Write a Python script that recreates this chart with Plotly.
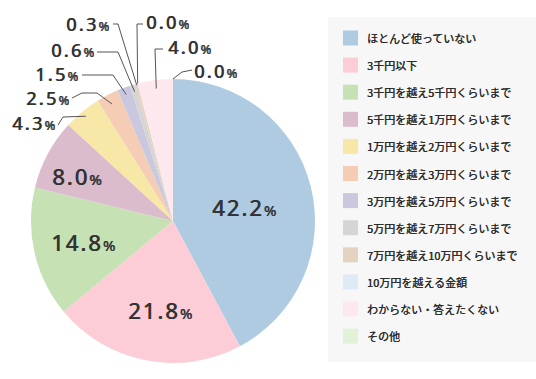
import math
import plotly.graph_objects as go

# ---- data ----
categories = [
    "ほとんど使っていない",
    "3千円以下",
    "3千円を越え5千円くらいまで",
    "5千円を越え1万円くらいまで",
    "1万円を越え2万円くらいまで",
    "2万円を越え3万円くらいまで",
    "3万円を越え5万円くらいまで",
    "5万円を越え7万円くらいまで",
    "7万円を越え10万円くらいまで",
    "10万円を越える金額",
    "わからない・答えたくない",
    "その他",
]
values = [42.2, 21.8, 14.8, 8.0, 4.3, 2.5, 1.5, 0.6, 0.3, 0.0, 4.0, 0.0]
colors = [
    "#afcbe2", "#fdcdd7", "#c6e2b4", "#dbbccd", "#f7e8a7", "#f5cdb5",
    "#c9c8de", "#d5d5d5", "#e4d3c0", "#dfebf4", "#fde9ed", "#e2f2d9",
]

W, H = 536, 379
CX, CY, R = 173, 221, 142


def px(x):
    return x / W


def py(y):
    return 1 - y / H


fig = go.Figure()
fig.add_trace(go.Pie(
    labels=categories,
    values=values,
    marker=dict(colors=colors, line=dict(width=0)),
    sort=False,
    direction="clockwise",
    rotation=0,
    textinfo="none",
    showlegend=False,
    domain=dict(x=[px(CX - R), px(CX + R)], y=[py(CY + R), py(CY - R)]),
))

total = sum(values)
cum = [sum(values[:i]) for i in range(len(values))]


def slice_point(i, rfrac, where=0.5):
    frac = (cum[i] + values[i] * where) / total
    th = 2 * math.pi * frac
    r = R * rfrac
    return CX + r * math.sin(th), CY - r * math.cos(th)


NUMFONT = "Noto Sans"
TXT = "#333333"
THICK = "0.7px 0 0 #333333"


def label_text(v, small, ls):
    return (f"<span style='letter-spacing:{ls}px'>{v:.1f}</span>"
            f"<span style='font-size:{small}px'>%</span>")


shapes = []
annotations = []

# inner labels (slice index, x, y)
inner = [(0, 244, 207), (1, 160, 310), (2, 83, 242), (3, 77, 176)]
for i, x, y in inner:
    annotations.append(dict(
        x=px(x), y=py(y), xref="paper", yref="paper", showarrow=False,
        text=label_text(values[i], 15, 2), xanchor="center", yanchor="middle",
        font=dict(family=NUMFONT, size=22, color=TXT, shadow=THICK),
    ))

# outer labels: (slice index, text anchor x, text y, anchor side, elbow points, rfrac)
outer = [
    (4, 57, 123, "right", [(58, 125), (63, 117)], 0.96),
    (5, 71, 98, "right", [(72, 98), (82, 93), (97, 93)], 0.93),
    (6, 80, 74, "right", [(82, 75), (113, 75)], 0.95),
    (7, 96, 50, "right", [(97, 52), (118, 52)], 0.95),
    (8, 111, 24, "right", [(113, 24), (118, 24)], 0.99),
    (9, 144, 22, "left", [(143, 24), (137, 24)], 1.0),
    (10, 166, 47, "left", [(163, 49), (155, 49)], 0.94),
    (11, 192, 71, "left", [(192, 70), (182, 72)], 1.0),
]
for i, x, y, side, pts, rf in outer:
    ex, ey = slice_point(i, rf)
    allpts = pts + [(ex, ey)]
    path = "M " + " L ".join(f"{px(a)},{py(b)}" for a, b in allpts)
    shapes.append(dict(type="path", path=path, xref="paper", yref="paper",
                       line=dict(color="#555555", width=1)))
    annotations.append(dict(
        x=px(x), y=py(y), xref="paper", yref="paper", showarrow=False,
        text=label_text(values[i], 13, 2.3), xanchor=side, yanchor="middle",
        height=20,
        font=dict(family=NUMFONT, size=18, color=TXT, shadow=THICK),
    ))

# legend panel
shapes.append(dict(type="rect", xref="paper", yref="paper",
                   x0=px(328), x1=px(536), y0=py(362), y1=py(17),
                   fillcolor="#f7f7f7", line=dict(width=0), layer="below"))
for k, (cat, col) in enumerate(zip(categories, colors)):
    yc = 38 + 27.1 * k
    shapes.append(dict(type="rect", xref="paper", yref="paper",
                       x0=px(343), x1=px(358), y0=py(yc + 7.5), y1=py(yc - 7.5),
                       fillcolor=col, line=dict(width=0)))
    annotations.append(dict(
        x=px(365), y=py(yc), xref="paper", yref="paper", showarrow=False,
        text=cat, xanchor="left", yanchor="middle",
        font=dict(family="Noto Sans CJK JP", size=11, color="#2a2a2a",
                  shadow="0.35px 0 0 #2a2a2a"),
    ))

fig.update_layout(
    width=W, height=H,
    margin=dict(l=0, r=0, t=0, b=0),
    paper_bgcolor="white", plot_bgcolor="white",
    shapes=shapes, annotations=annotations,
    showlegend=False,
)

fig.write_html(
    "out.html",
    config=dict(displayModeBar=False),
    post_script="document.body.style.margin='0px';document.body.style.overflow='hidden';",
)
